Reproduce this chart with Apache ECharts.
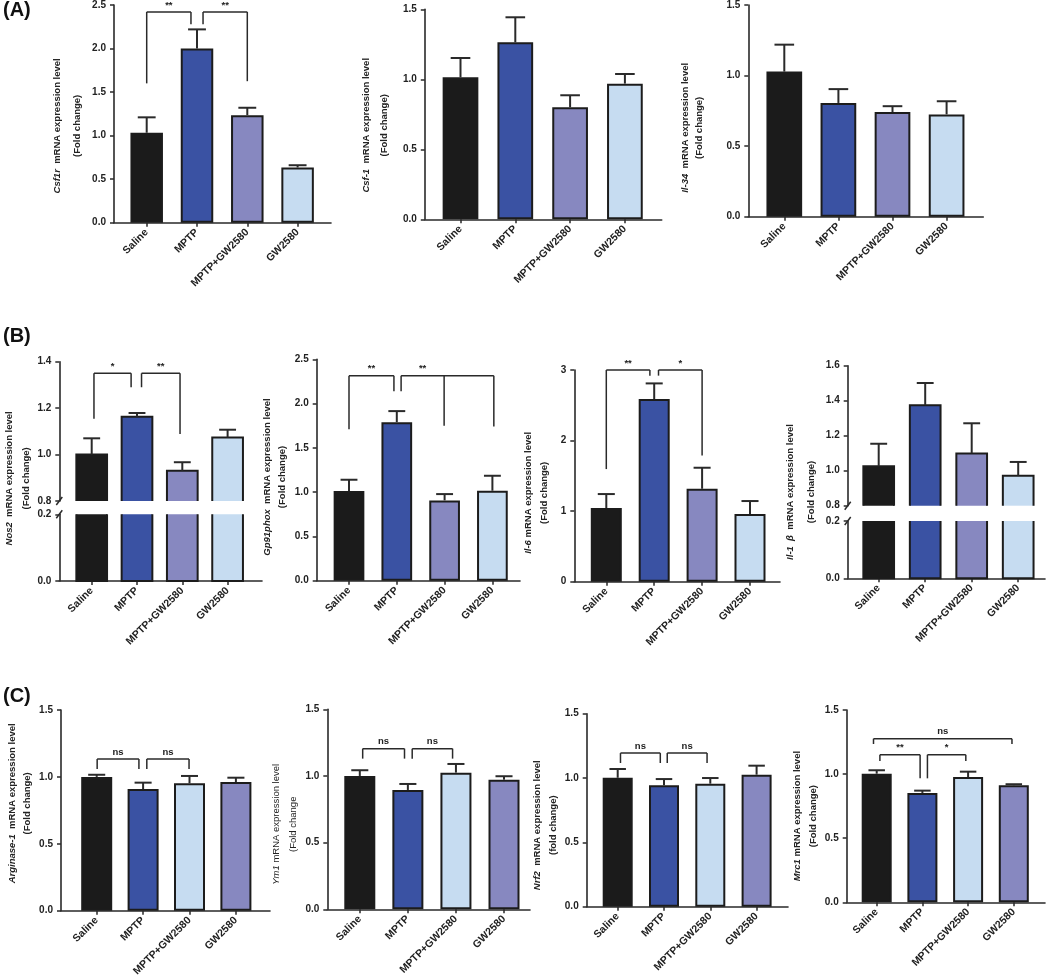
<!DOCTYPE html>
<html><head><meta charset="utf-8">
<script src="https://cdn.jsdelivr.net/npm/echarts@6/dist/echarts.min.js"></script>
<style>html,body{margin:0;padding:0;background:#fff}#c{width:1050px;height:980px}</style>
</head><body><div id="c"></div><script>
// ---------------- DATA ----------------
const categories = ['Saline', 'MPTP', 'MPTP+GW2580', 'GW2580'];

const csf1rMean = [1.033, 2.00, 1.235, 0.634];
const csf1rSem  = [0.177, 0.22, 0.085, 0.026];
const csf1rTicks = [0, 0.5, 1.0, 1.5, 2.0, 2.5];
const csf1rBrackets = [
  {legs: [[0, 1.60], [0.88, 2.28]], top: 2.42, label: '**'},
  {legs: [[1.12, 2.28], [2, 1.625]], top: 2.42, label: '**'}
];

const csf1Mean = [1.014, 1.264, 0.80, 0.969];
const csf1Sem  = [0.138, 0.179, 0.086, 0.069];
const csf1Ticks = [0, 0.5, 1.0, 1.5];

const il34Mean = [1.028, 0.806, 0.741, 0.725];
const il34Sem  = [0.191, 0.098, 0.042, 0.093];
const il34Ticks = [0, 0.5, 1.0, 1.5];

const nos2Mean = [1.0, 1.163, 0.93, 1.073];
const nos2Sem  = [0.07, 0.016, 0.037, 0.034];
const nos2UpperTicks = [0.8, 1.0, 1.2, 1.4];
const nos2LowerTicks = [0, 0.2];
const nos2Brackets = [
  {legs: [[0.05, 1.154], [0.87, 1.29]], top: 1.35, label: '*'},
  {legs: [[1.10, 1.29], [1.95, 1.089]], top: 1.35, label: '**'}
];

const gp91Mean = [1.012, 1.79, 0.907, 1.016];
const gp91Sem  = [0.128, 0.125, 0.071, 0.169];
const gp91Ticks = [0, 0.5, 1.0, 1.5, 2.0, 2.5];
const gp91Brackets = [
  {legs: [[0, 1.71], [0.94, 2.14]], top: 2.314, label: '**'},
  {legs: [[1.09, 2.14], [1.99, 1.75], [3.03, 1.74]], top: 2.314, label: '**'}
];

const il6Mean = [1.044, 2.588, 1.317, 0.959];
const il6Sem  = [0.198, 0.222, 0.298, 0.184];
const il6Ticks = [0, 1, 2, 3];
const il6Brackets = [
  {legs: [[0, 1.596], [0.91, 2.92]], top: 3.0, label: '**'},
  {legs: [[1.09, 2.92], [2, 1.79]], top: 3.0, label: '*'}
];

const il1bMean = [1.025, 1.374, 1.099, 0.971];
const il1bSem  = [0.129, 0.127, 0.172, 0.079];
const il1bUpperTicks = [0.8, 1.0, 1.2, 1.4, 1.6];
const il1bLowerTicks = [0, 0.2];

const arg1Mean = [1.0, 0.909, 0.952, 0.962];
const arg1Sem  = [0.016, 0.048, 0.055, 0.032];
const arg1Ticks = [0, 0.5, 1.0, 1.5];
const arg1Brackets = [
  {legs: [[0.01, 1.059], [0.91, 1.059]], top: 1.134, label: 'ns'},
  {legs: [[1.08, 1.059], [1.99, 1.059]], top: 1.134, label: 'ns'}
];

const ym1Mean = [1.0, 0.895, 1.025, 0.972];
const ym1Sem  = [0.043, 0.045, 0.065, 0.026];
const ym1Ticks = [0, 0.5, 1.0, 1.5];
const ym1Brackets = [
  {legs: [[0.06, 1.13], [0.93, 1.13]], top: 1.205, label: 'ns'},
  {legs: [[1.09, 1.13], [1.93, 1.13]], top: 1.205, label: 'ns'}
];

const nrf2Mean = [1.002, 0.943, 0.956, 1.026];
const nrf2Sem  = [0.068, 0.049, 0.044, 0.07];
const nrf2Ticks = [0, 0.5, 1.0, 1.5];
const nrf2Brackets = [
  {legs: [[0.06, 1.117], [0.92, 1.117]], top: 1.194, label: 'ns'},
  {legs: [[1.07, 1.117], [1.93, 1.117]], top: 1.194, label: 'ns'}
];

const mrc1Mean = [1.003, 0.853, 0.977, 0.913];
const mrc1Sem  = [0.027, 0.018, 0.042, 0.008];
const mrc1Ticks = [0, 0.5, 1.0, 1.5];
const mrc1Brackets = [
  {legs: [[-0.07, 1.235], [2.96, 1.235]], top: 1.276, label: 'ns'},
  {legs: [[0.07, 1.102], [0.95, 0.967]], top: 1.151, label: '**'},
  {legs: [[1.11, 0.967], [1.95, 1.102]], top: 1.151, label: '*'}
];

// ---------------- STYLE ----------------
const colorsAB = ['#1b1b1b', '#3a52a3', '#8788c0', '#c6dcf1'];
const colorsC  = ['#1b1b1b', '#3a52a3', '#c6dcf1', '#8788c0'];
const AX = '#2a2a2a';
const FONT = "'Liberation Sans', Arial, Helvetica, sans-serif";

const charts = [
  {mean: csf1rMean, sem: csf1rSem, ticks: csf1rTicks, brackets: csf1rBrackets, colors: colorsAB, dec: 1,
   gene: 'Csf1r', rest: '  mRNA expression level', sub: '(Fold change)',
   box: {L: 114, R: 331, top: 3.3, bottom: 222.7, c0: 146.7, s: 50.3, barW: 32.5, gap: 27, lh: 20, shift: 12}},
  {mean: csf1Mean, sem: csf1Sem, ticks: csf1Ticks, brackets: [], colors: colorsAB, dec: 1,
   gene: 'Csf-1', rest: '  mRNA expression level', sub: '(Fold change)',
   box: {L: 424.8, R: 661.7, top: 9.3, bottom: 219.3, c0: 460.5, s: 54.8, barW: 35.7, gap: 31, lh: 18, shift: 11}},
  {mean: il34Mean, sem: il34Sem, ticks: il34Ticks, brackets: [], colors: colorsAB, dec: 1,
   gene: 'Il-34', rest: '  mRNA expression level', sub: '(Fold change)',
   box: {L: 748.3, R: 983.3, top: 2.7, bottom: 216.7, c0: 784.3, s: 54.1, barW: 35.7, gap: 42, lh: 14, shift: 17}},
  {mean: nos2Mean, sem: nos2Sem, upper: nos2UpperTicks, lower: nos2LowerTicks, brackets: nos2Brackets, colors: colorsAB, dec: 1,
   gene: 'Nos2', rest: '  mRNA expression level', sub: '(Fold change)',
   box: {L: 59.3, R: 262, top: 361.7, brk: [501, 514.3], bottom: 581, c0: 91.7, s: 45.3, barW: 30.7, gap: 28, lh: 17, shift: 7}},
  {mean: gp91Mean, sem: gp91Sem, ticks: gp91Ticks, brackets: gp91Brackets, colors: colorsAB, dec: 1,
   gene: 'Gp91phox', rest: '  mRNA expression level', sub: '(Fold change)',
   box: {L: 316.7, R: 520, top: 359.3, bottom: 580.7, c0: 349, s: 47.8, barW: 30.7, gap: 27, lh: 15, shift: 7}},
  {mean: il6Mean, sem: il6Sem, ticks: il6Ticks, brackets: il6Brackets, colors: colorsAB, dec: 0,
   gene: 'Il-6', rest: ' mRNA expression level', sub: '(Fold change)',
   box: {L: 574.3, R: 780, top: 370, bottom: 581.7, c0: 606.3, s: 47.9, barW: 31, gap: 22, lh: 16, shift: 17}},
  {mean: il1bMean, sem: il1bSem, upper: il1bUpperTicks, lower: il1bLowerTicks, brackets: [], colors: colorsAB, dec: 1,
   gene: 'Il-1  β', rest: '  mRNA expression level', sub: '(Fold change)',
   box: {L: 847.7, R: 1045, top: 365.7, brk: [505.7, 521], bottom: 578.3, c0: 878.7, s: 46.5, barW: 30.7, gap: 26, lh: 21, shift: 20}},
  {mean: arg1Mean, sem: arg1Sem, ticks: arg1Ticks, brackets: arg1Brackets, colors: colorsC, dec: 1,
   gene: 'Arginase-1', rest: '  mRNA expression level', sub: '(Fold change)',
   box: {L: 61, R: 270, top: 710, bottom: 910.7, c0: 96.7, s: 46.4, barW: 31, gap: 19, lh: 15.5, shift: -7}},
  {mean: ym1Mean, sem: ym1Sem, ticks: ym1Ticks, brackets: ym1Brackets, colors: colorsC, dec: 1,
   gene: 'Ym1', rest: ' mRNA expression level', sub: '(Fold change', weight: 'normal',
   box: {L: 327.3, R: 530, top: 709.3, bottom: 909.3, c0: 359.8, s: 48.07, barW: 31, gap: 24, lh: 17, shift: 15}},
  {mean: nrf2Mean, sem: nrf2Sem, ticks: nrf2Ticks, brackets: nrf2Brackets, colors: colorsC, dec: 1,
   gene: 'Nrf2', rest: '  mRNA expression level', sub: '(fold change)',
   box: {L: 586.7, R: 788, top: 713.7, bottom: 906.7, c0: 617.7, s: 46.3, barW: 30, gap: 23, lh: 15.7, shift: 15}},
  {mean: mrc1Mean, sem: mrc1Sem, ticks: mrc1Ticks, brackets: mrc1Brackets, colors: colorsC, dec: 1,
   gene: 'Mrc1', rest: ' mRNA expression level', sub: '(Fold change)',
   box: {L: 846.7, R: 1045, top: 710, bottom: 902.3, c0: 876.7, s: 45.7, barW: 30, gap: 20, lh: 15.5, shift: 10}}
];

// ---------------- BUILD ----------------
const grids = [], xAxes = [], yAxes = [], series = [];

function nameCfg(c) {
  const b = c.box, w = c.weight || 'bold', fs = 9.5;
  const pad = b.shift >= 0 ? [0, 2 * b.shift, 0, 0] : [0, 0, 0, -2 * b.shift];
  return {
    name: '{i|' + c.gene + '}{n|' + c.rest + '}\n{n|' + c.sub + '}',
    nameLocation: 'middle', nameGap: b.gap,
    nameTextStyle: {
      fontFamily: FONT, fontSize: fs, fontWeight: w, color: '#222', lineHeight: b.lh, padding: pad,
      rich: {
        i: {fontFamily: FONT, fontSize: fs, fontWeight: w, fontStyle: 'italic', color: '#222', lineHeight: b.lh},
        n: {fontFamily: FONT, fontSize: fs, fontWeight: w, color: '#222', lineHeight: b.lh}
      }
    }
  };
}

function addChart(c) {
  const b = c.box;
  const xMin = -(b.c0 - b.L) / b.s;
  const xMax = xMin + (b.R - b.L) / b.s;
  const segs = b.brk
    ? [{top: b.top, bottom: b.brk[0], ticks: c.upper, mode: 'upper'},
       {top: b.brk[1], bottom: b.bottom, ticks: c.lower, mode: 'lower'}]
    : [{top: b.top, bottom: b.bottom, ticks: c.ticks, mode: 'full'}];
  const capW = b.barW * 0.55;
  const idxs = [0, 1, 2, 3];

  if (b.brk) {
    const gi = grids.length;
    grids.push({left: b.L, top: b.top, width: b.R - b.L, height: b.bottom - b.top});
    xAxes.push({gridIndex: gi, type: 'value', show: false, min: 0, max: 1});
    yAxes.push(Object.assign({gridIndex: gi, type: 'value', min: 0, max: 1,
      axisLine: {show: false}, axisTick: {show: false}, axisLabel: {show: false}, splitLine: {show: false}}, nameCfg(c)));
  }

  segs.forEach(seg => {
    const gi = grids.length;
    const t = seg.ticks;
    const step = Math.round((t[1] - t[0]) * 1000) / 1000;
    grids.push({left: b.L, top: seg.top, width: b.R - b.L, height: seg.bottom - seg.top});
    xAxes.push({
      gridIndex: gi, type: 'value', min: xMin, max: xMax, show: seg.mode !== 'upper',
      splitLine: {show: false},
      axisLine: {show: true, onZero: false, lineStyle: {color: AX, width: 1.6}},
      axisTick: {show: true, customValues: idxs, length: 4, lineStyle: {color: AX, width: 1.5}},
      axisLabel: {customValues: idxs, rotate: 45, margin: 8,
        formatter: v => categories[Math.round(v)] || '',
        fontFamily: FONT, fontWeight: 'bold', fontSize: 10.5, color: '#222'}
    });
    const ya = {
      gridIndex: gi, type: 'value', min: t[0], max: t[t.length - 1], interval: step,
      splitLine: {show: false},
      axisLine: {show: true, onZero: false, lineStyle: {color: AX, width: 1.6}},
      axisTick: {show: true, length: 4, lineStyle: {color: AX, width: 1.5}},
      axisLabel: {formatter: v => Number(v).toFixed(c.dec), margin: 8,
        fontFamily: FONT, fontWeight: 'bold', fontSize: 10, color: '#222'}
    };
    if (seg.mode === 'full') Object.assign(ya, nameCfg(c));
    yAxes.push(ya);

    // bars
    series.push({
      type: 'bar', xAxisIndex: gi, yAxisIndex: gi, barWidth: b.barW, clip: true, silent: true, z: 2,
      itemStyle: {borderColor: '#1c1c1c', borderWidth: seg.mode === 'full' ? 2 : 0},
      data: c.mean.map((v, i) => ({value: [i, v], itemStyle: {color: c.colors[i]}}))
    });

    // outlines for broken-axis segments
    if (seg.mode !== 'full') {
      const yLo = t[0], yHi = t[t.length - 1];
      series.push({
        type: 'custom', xAxisIndex: gi, yAxisIndex: gi, silent: true, z: 3,
        data: c.mean.map((v, i) => [i, v]),
        renderItem: (p, api) => {
          const x = api.value(0), m = api.value(1), hw = b.barW / 2;
          if (seg.mode === 'upper') {
            const tp = api.coord([x, m]), bs = api.coord([x, yLo]);
            return {type: 'polyline', shape: {points: [[tp[0] - hw, bs[1]], [tp[0] - hw, tp[1]], [tp[0] + hw, tp[1]], [tp[0] + hw, bs[1]]]},
              style: {stroke: '#1c1c1c', lineWidth: 2, fill: null}};
          }
          const tp = api.coord([x, yHi]), bs = api.coord([x, yLo]);
          return {type: 'polyline', shape: {points: [[tp[0] - hw, tp[1]], [tp[0] - hw, bs[1]], [tp[0] + hw, bs[1]], [tp[0] + hw, tp[1]]]},
            style: {stroke: '#1c1c1c', lineWidth: 2, fill: null}};
        }
      });
      // axis break slash
      series.push({
        type: 'custom', xAxisIndex: gi, yAxisIndex: gi, silent: true, z: 4,
        data: [[xMin, seg.mode === 'upper' ? yLo : yHi]],
        renderItem: (p, api) => {
          const q = api.coord([api.value(0), api.value(1)]);
          return {type: 'line', shape: {x1: q[0] - 3, y1: q[1] + 4, x2: q[0] + 3, y2: q[1] - 4},
            style: {stroke: AX, lineWidth: 1.5}};
        }
      });
    }

    if (seg.mode !== 'lower') {
      // error bars
      series.push({
        type: 'custom', xAxisIndex: gi, yAxisIndex: gi, silent: true, z: 4,
        data: c.mean.map((m, i) => [i, m, c.sem[i]]),
        renderItem: (p, api) => {
          const x = api.value(0), m = api.value(1), e = api.value(2);
          const a = api.coord([x, m]), tt = api.coord([x, m + e]);
          return {type: 'group', children: [
            {type: 'line', shape: {x1: a[0], y1: a[1], x2: tt[0], y2: tt[1]}, style: {stroke: AX, lineWidth: 2}},
            {type: 'line', shape: {x1: tt[0] - capW / 2, y1: tt[1], x2: tt[0] + capW / 2, y2: tt[1]}, style: {stroke: AX, lineWidth: 2}}
          ]};
        }
      });
      // significance brackets
      if (c.brackets && c.brackets.length) {
        series.push({
          type: 'custom', xAxisIndex: gi, yAxisIndex: gi, silent: true, z: 4,
          data: c.brackets.map(br => [br.legs[0][0], br.top]),
          renderItem: (p, api) => {
            const br = c.brackets[p.dataIndex];
            const ch = [];
            const first = api.coord([br.legs[0][0], br.top]);
            const last = api.coord([br.legs[br.legs.length - 1][0], br.top]);
            ch.push({type: 'line', shape: {x1: first[0], y1: first[1], x2: last[0], y2: last[1]}, style: {stroke: AX, lineWidth: 1.5}});
            br.legs.forEach(l => {
              const a = api.coord([l[0], br.top]), d = api.coord([l[0], l[1]]);
              ch.push({type: 'line', shape: {x1: a[0], y1: a[1], x2: d[0], y2: d[1]}, style: {stroke: AX, lineWidth: 1.5}});
            });
            const lp = api.coord([(br.legs[0][0] + br.legs[1][0]) / 2, br.top]);
            ch.push({type: 'text', x: lp[0], y: lp[1] - 2,
              style: {text: br.label, fontFamily: FONT, fontSize: 9.5, fontWeight: 'bold', fill: '#222', align: 'center', verticalAlign: 'bottom'}});
            return {type: 'group', children: ch};
          }
        });
      }
    }
  });
}

charts.forEach(addChart);

const option = {
  animation: false,
  backgroundColor: '#ffffff',
  grid: grids, xAxis: xAxes, yAxis: yAxes, series: series,
  graphic: [
    {type: 'text', left: 3, top: 0, style: {text: '(A)', fontFamily: FONT, fontSize: 20, fontWeight: 'bold', fill: '#111'}},
    {type: 'text', left: 3, top: 326, style: {text: '(B)', fontFamily: FONT, fontSize: 20, fontWeight: 'bold', fill: '#111'}},
    {type: 'text', left: 3, top: 686, style: {text: '(C)', fontFamily: FONT, fontSize: 20, fontWeight: 'bold', fill: '#111'}}
  ]
};

const chart = echarts.init(document.getElementById('c'), null, {renderer: 'canvas', width: 1050, height: 980});
chart.setOption(option);
</script></body></html>
